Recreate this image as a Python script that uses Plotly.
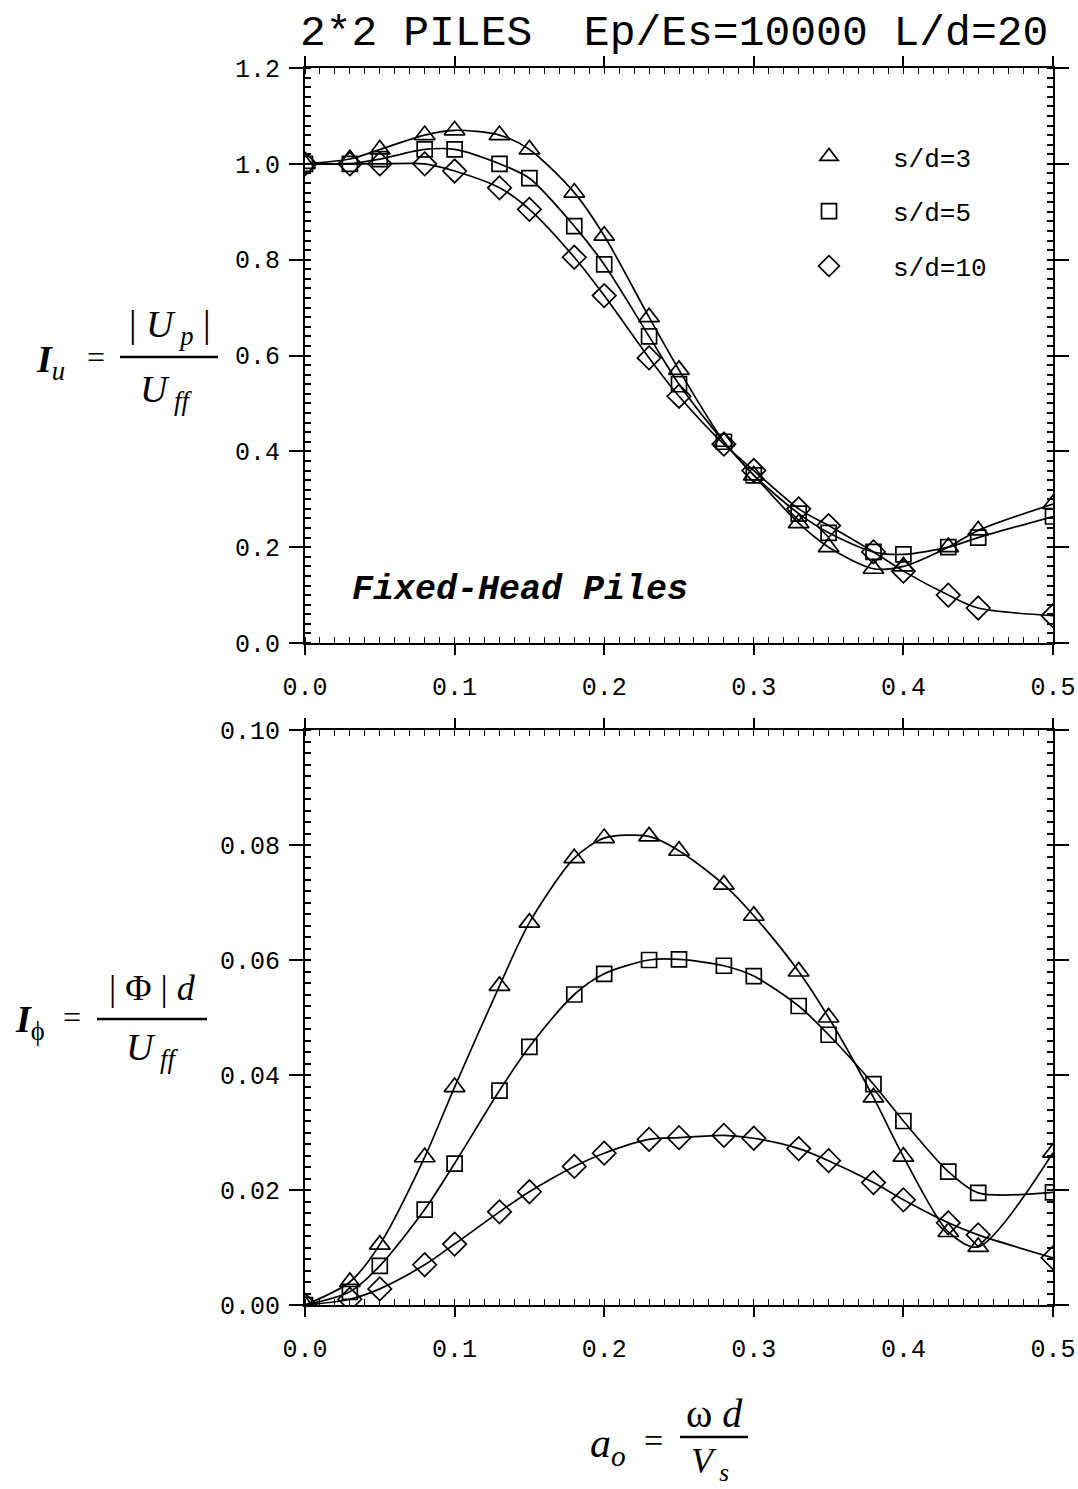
import plotly.graph_objects as go
from plotly.subplots import make_subplots

# Dimensionless frequency a_o
a0 = [0.0, 0.03, 0.05, 0.08, 0.10, 0.13, 0.15, 0.18, 0.20, 0.23,
      0.25, 0.28, 0.30, 0.33, 0.35, 0.38, 0.40, 0.43, 0.45, 0.50]

series_names = ["s/d=3", "s/d=5", "s/d=10"]

# Displacement factor I_u
iu_sd3 = [1.00, 1.01, 1.03, 1.06, 1.07, 1.06, 1.03, 0.94, 0.85, 0.68,
          0.57, 0.42, 0.35, 0.25, 0.20, 0.155, 0.16, 0.20, 0.235, 0.29]
iu_sd5 = [1.00, 1.00, 1.01, 1.03, 1.03, 1.00, 0.97, 0.87, 0.79, 0.64,
          0.54, 0.42, 0.35, 0.27, 0.23, 0.19, 0.185, 0.20, 0.22, 0.264]
iu_sd10 = [1.00, 1.00, 1.00, 1.00, 0.985, 0.95, 0.905, 0.805, 0.725, 0.595,
           0.515, 0.415, 0.36, 0.28, 0.245, 0.19, 0.15, 0.10, 0.073, 0.057]

# Rotation factor I_phi
iphi_sd3 = [0.0, 0.004, 0.0105, 0.0257, 0.0379, 0.0555, 0.0665, 0.0777, 0.0812, 0.0815,
            0.079, 0.0731, 0.0677, 0.058, 0.050, 0.0361, 0.0258, 0.0127, 0.0101, 0.0265]
iphi_sd5 = [0.0, 0.0023, 0.0068, 0.0166, 0.0246, 0.0373, 0.0449, 0.054, 0.0576, 0.0600,
            0.0601, 0.059, 0.0572, 0.052, 0.047, 0.0384, 0.032, 0.0232, 0.0195, 0.0196]
iphi_sd10 = [0.0, 0.001, 0.0028, 0.007, 0.0106, 0.0162, 0.0197, 0.0241, 0.0264, 0.0288,
             0.0291, 0.0295, 0.029, 0.0272, 0.0251, 0.0213, 0.0183, 0.0143, 0.0122, 0.0082]

symbols = ["triangle-up-open", "square-open", "diamond-open"]
sizes = [18, 15, 18]

W, H = 1078, 1489
L, R, T, B = 305, 25, 68, 184
PW, PH = W - L - R, H - T - B


def px(x):
    return (x - L) / PW


def py(y):
    return (H - B - y) / PH


fig = make_subplots(rows=2, cols=1, vertical_spacing=(732 - 645) / PH)

top = [iu_sd3, iu_sd5, iu_sd10]
bot = [iphi_sd3, iphi_sd5, iphi_sd10]

for row, data in ((1, top), (2, bot)):
    for k, vals in enumerate(data):
        fig.add_trace(go.Scatter(
            x=a0, y=vals, mode="lines",
            line=dict(color="black", width=1.7, shape="spline", smoothing=0.8),
            showlegend=False, hoverinfo="skip"), row=row, col=1)
        fig.add_trace(go.Scatter(
            x=a0, y=vals, mode="markers",
            marker=dict(symbol=symbols[k], size=sizes[k], color="black",
                        line=dict(width=1.7, color="black")),
            name=series_names[k], legendgroup=series_names[k],
            showlegend=(row == 1)), row=row, col=1)

plotter = "Liberation Mono"
axis_common = dict(
    showline=True, linecolor="black", linewidth=2, mirror="ticks",
    ticks="outside", tickwidth=1.6, tickcolor="black",
    showgrid=False, zeroline=False, automargin=False,
    tickfont=dict(family=plotter, size=25, color="black"),
)

for r in (1, 2):
    fig.update_xaxes(range=[0, 0.5], dtick=0.1, tickformat=".1f", ticklen=10, ticklabelstandoff=10,
                     minor=dict(ticks="inside", dtick=0.01, ticklen=6, tickwidth=1.3, tickcolor="black"),
                     row=r, col=1, **axis_common)

fig.update_yaxes(range=[0, 1.2], dtick=0.2, tickformat=".1f", ticklen=14, ticklabelstandoff=4,
                 minor=dict(ticks="inside", dtick=0.02, ticklen=6, tickwidth=1.8, tickcolor="black"),
                 row=1, col=1, **axis_common)
fig.update_yaxes(range=[0, 0.1], dtick=0.02, tickformat=".2f", ticklen=14, ticklabelstandoff=4,
                 minor=dict(ticks="inside", dtick=0.002, ticklen=6, tickwidth=1.8, tickcolor="black"),
                 row=2, col=1, **axis_common)

serif = "Liberation Serif"
ann = []


def text(x, y, s, size, family=serif, xanchor="center"):
    ann.append(dict(x=px(x), y=py(y), xref="paper", yref="paper", text=s, showarrow=False,
                    xanchor=xanchor, yanchor="middle",
                    font=dict(family=family, size=size, color="black")))


# Title
text(674, 34, "2*2 PILES  Ep/Es=10000 L/d=20", 43, family=plotter)

# Panel note
text(520, 590, "<b><i>Fixed-Head Piles</i></b>", 35, family="Liberation Mono")

# I_u = |U_p| / U_ff
text(50, 362, "<i><b>I</b><sub>u</sub></i>", 38)
text(96, 357, "=", 32)
text(170, 327, "| <i>U<sub> p</sub></i> |", 38)
text(166, 392, "<i>U<sub> ff</sub></i>", 38)

# I_phi = |Phi| d / U_ff
text(30, 1022, "<i><b>I</b></i><sub>\u03d5</sub>", 38)
text(72, 1017, "=", 32)
text(152, 988, "| \u03a6 | <i>d</i>", 36)
text(152, 1050, "<i>U<sub> ff</sub></i>", 38)

# a_o = omega d / V_s
text(608, 1446, "<i>a<sub>o</sub></i>", 42)
text(653, 1440, "=", 34)
text(714, 1413, "\u03c9 <i>d</i>", 40)
text(710, 1463, "<i>V<sub> s</sub></i>", 36)

shapes = []
for (x0, x1, y) in ((120, 218, 357), (97, 207, 1019), (680, 748, 1437)):
    shapes.append(dict(type="line", xref="paper", yref="paper",
                       x0=px(x0), x1=px(x1), y0=py(y), y1=py(y),
                       line=dict(color="black", width=2.5)))

fig.update_layout(
    width=W, height=H,
    margin=dict(l=L, r=R, t=T, b=B, autoexpand=False),
    paper_bgcolor="white", plot_bgcolor="white",
    annotations=ann, shapes=shapes,
    legend=dict(x=px(765), y=py(133), xanchor="left", yanchor="top",
                font=dict(family=plotter, size=26, color="black"),
                bgcolor="rgba(0,0,0,0)", tracegroupgap=18, itemwidth=118),
    showlegend=True,
)

fig.write_html("out.html")
